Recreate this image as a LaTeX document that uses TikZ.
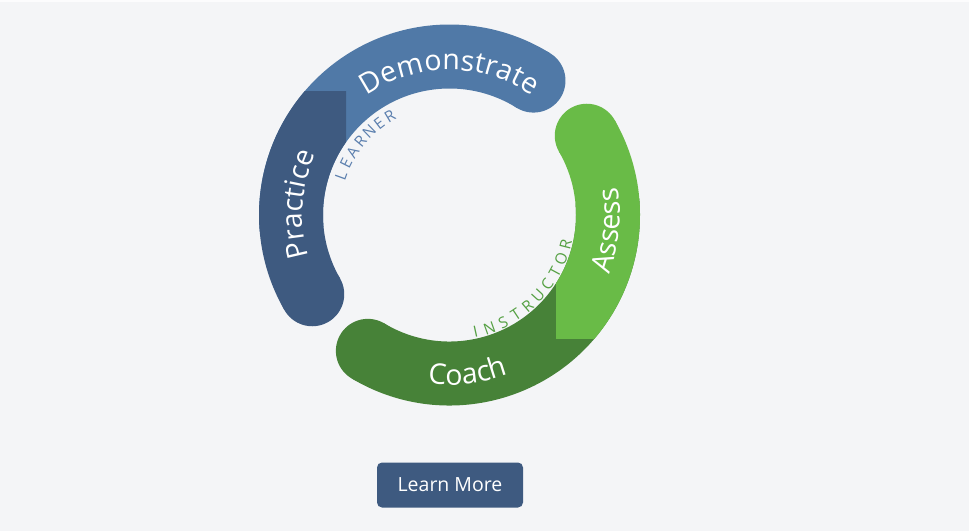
\documentclass[tikz,border=0pt]{standalone}
\usepackage{fontspec}
\setmainfont{Open Sans}
\usetikzlibrary{decorations.text}
\definecolor{bg}{HTML}{F4F5F7}
\definecolor{demo}{HTML}{5079A7}
\definecolor{prac}{HTML}{3E5A80}
\definecolor{coach}{HTML}{478238}
\definecolor{assess}{HTML}{69BB47}
\definecolor{learnc}{HTML}{5B7FAE}
\definecolor{instrc}{HTML}{55A043}
\tikzset{
  band/.style={line width=64pt},
  captext/.style={font=\fontsize{15.5}{15.5}\selectfont, inner sep=0pt},
  bigtext/.style={decorate, decoration={text along path, text align=center, text={|\fontsize{28.5}{28.5}\selectfont\color{white}|#1}}},
  btnstyle/.style={fill=prac, rounded corners=5pt, minimum width=146pt, minimum height=45pt, text=white, font=\fontsize{19.5}{19.5}\selectfont, inner sep=0pt}
}
\begin{document}
\begin{tikzpicture}[x=1pt,y=1pt]
\useasboundingbox (0,0) rectangle (969,531);
\fill[bg] (0,0) rectangle (969,531);
\fill[white!70!bg] (0,529) rectangle (969,531);
\begin{scope}[shift={(449.5,316)}]
  \coordinate (c) at (0,0);
  % Demonstrate
  \draw[band, demo] (c) ++(185:158.5pt) arc[start angle=185, end angle=58, radius=158.5pt];
  \fill[demo] (c) ++(58:158.5pt) circle (32pt);
  % Practice
  \begin{scope}
    \clip (-260,-260) rectangle (-103.5,123);
    \draw[band, prac] (c) ++(80:158.5pt) arc[start angle=80, end angle=210, radius=158.5pt];
  \end{scope}
  \fill[prac] (c) ++(210:158.5pt) circle (32pt);
  % Coach
  \draw[band, coach] (c) ++(239:158.5pt) arc[start angle=239, end angle=365, radius=158.5pt];
  \fill[coach] (c) ++(239:158.5pt) circle (32pt);
  % Assess
  \begin{scope}
    \clip (106.5,-123) rectangle (260,260);
    \draw[band, assess] (c) ++(-100:158.5pt) arc[start angle=-100, end angle=30, radius=158.5pt];
  \end{scope}
  \fill[assess] (c) ++(30:158.5pt) circle (32pt);
  % big labels
  \path[bigtext=Demonstrate] (c) ++(160:145pt) arc[start angle=160, end angle=20, radius=145pt];
  \path[bigtext=Practice] (c) ++(240:147pt) arc[start angle=240, end angle=112, radius=147pt];
  \path[bigtext=Coach] (c) ++(-150:170pt) arc[start angle=-150, end angle=-17, radius=170pt];
  \path[bigtext=Assess] (c) ++(-70:170.5pt) arc[start angle=-70, end angle=59, radius=170.5pt];
  % small labels
  \foreach \l [count=\i] in {L,E,A,R,N,E,R}{
    \pgfmathsetmacro{\a}{160-(\i-1)*6.5}
    \node[captext, text=learnc, anchor=base, rotate=\a-90] (le\i) at (\a:110pt) {\l};
  }
  \foreach \l [count=\i] in {I,N,S,T,R,U,C,T,O,R}{
    \pgfmathsetmacro{\a}{-77.5+(\i-1)*7.02}
    \node[captext, text=instrc, anchor=base, rotate=\a+90] (in\i) at (\a:125.5pt) {\l};
  }
\end{scope}
\node[btnstyle] (btn) at (450,46) {Learn More};
\end{tikzpicture}
\end{document}
